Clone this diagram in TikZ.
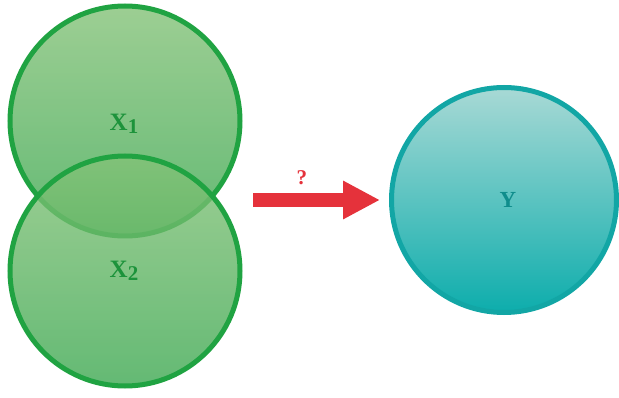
\documentclass[tikz,border=0pt]{standalone}
\usepackage{fontspec}
\setmainfont{Liberation Serif}
\usepackage{tikz}
\usetikzlibrary{arrows.meta,positioning}
\definecolor{SetGreen}{HTML}{20A342}
\definecolor{SetGreenTop}{HTML}{84C278}
\definecolor{SetGreenBot}{HTML}{3DA851}
\definecolor{SetTeal}{HTML}{12A6A5}
\definecolor{SetTealTop}{HTML}{A8D9D5}
\definecolor{SetTealMid}{HTML}{3FBAB7}
\definecolor{SetTealBot}{HTML}{0DADAC}
\definecolor{AskRed}{HTML}{E5323B}

\begin{document}
\begin{tikzpicture}[x=1pt,y=-1pt,setx/.style={circle,draw=SetGreen,line width=5pt,minimum size=230pt,inner sep=0pt,top color=SetGreenTop,bottom color=SetGreenBot,fill opacity=0.8},setlab/.style={text=SetGreen!90!black,font=\fontsize{25}{29}\selectfont\bfseries},sety/.style={circle,draw=SetTeal,line width=5pt,minimum size=225pt,inner sep=0pt,top color=SetTealTop,middle color=SetTealMid,bottom color=SetTealBot,text=SetTeal!85!black,font=\fontsize{23}{27}\selectfont\bfseries},askarrow/.style={-{Triangle[length=37pt,width=36pt]},line width=14pt,AskRed},askmark/.style={text=AskRed,inner sep=0pt,font=\fontsize{21}{25}\selectfont\bfseries}]
  \useasboundingbox (0,0) rectangle (619,398);
  \node[setx] (x1) at (125,121) {};
  \node[setx,below=-85pt of x1] (x2) {};
  \node[setlab] (x1lab) at (124,124) {X\raisebox{-0.3ex}{\fontsize{21}{25}\selectfont 1}};
  \node[setlab] (x2lab) at (124,271) {X\raisebox{-0.3ex}{\fontsize{21}{25}\selectfont 2}};
  \node[sety] (y) at (504,200) {\hspace*{8pt}Y};
  \coordinate (ask) at (253,200);
  \draw[askarrow,shorten >=9pt] (ask)--(y.west) node[pos=0.36,above=8pt,askmark] {?};
\end{tikzpicture}
\end{document}
